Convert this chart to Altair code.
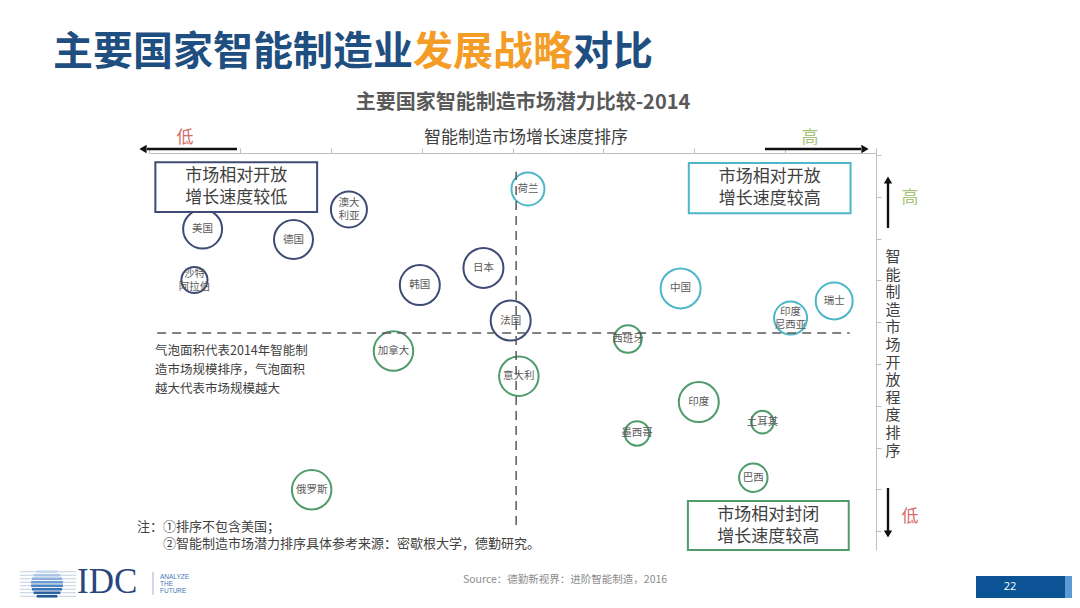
import altair as alt
import pandas as pd

CJK = "Noto Sans CJK SC"

# ---------------- data ----------------
countries = ["美国", "德国", "澳大利亚", "沙特阿拉伯", "韩国", "日本", "法国",
             "荷兰", "中国", "印度尼西亚", "瑞士",
             "加拿大", "意大利", "俄罗斯", "西班牙", "印度", "墨西哥", "土耳其", "巴西"]
labels = ["美国", "德国", "澳大\n利亚", "沙特\n阿拉伯", "韩国", "日本", "法国",
          "荷兰", "中国", "印度\n尼西亚", "瑞士",
          "加拿大", "意大利", "俄罗斯", "西班牙", "印度", "墨西哥", "土耳其", "巴西"]
# growth-rate ranking position (left = low, right = high)
growth = [0.59, 1.59, 2.20, 0.50, 2.98, 3.68, 3.98,
          4.17, 5.85, 7.06, 7.54,
          2.69, 4.07, 1.79, 5.27, 6.05, 5.37, 6.75, 6.65]
# market openness ranking position (bottom = low, top = high)
openness = [7.23, 6.98, 7.70, 6.01, 5.89, 6.30, 5.04,
            8.19, 5.81, 5.10, 5.51,
            4.31, 3.71, 0.99, 4.60, 3.09, 2.34, 2.61, 1.28]
# relative market size (bubble area)
market_size = [15.2, 15.2, 13.0, 6.8, 16.0, 16.0, 16.0,
               10.9, 16.0, 10.9, 13.7,
               15.6, 15.6, 15.6, 7.6, 16.0, 6.0, 5.1, 8.1]
groups = ["开放·低速", "开放·高速", "封闭·高速"]
group_of = [groups[0]] * 7 + [groups[1]] * 4 + [groups[2]] * 8

# quadrant dividers
div_growth = 4.04
div_open = 4.74

quad_text = ["市场相对开放\n增长速度较低", "市场相对开放\n增长速度较高", "市场相对封闭\n增长速度较高"]
quad_x1 = [0.07, 5.94, 5.93]
quad_x2 = [1.85, 7.72, 7.70]
quad_y1 = [7.64, 7.61, -0.45]
quad_y2 = [8.83, 8.81, 0.72]

group_colors = ["#3e4b74", "#4db6c8", "#4f9b6b"]

df = pd.DataFrame({"country": countries, "label": labels, "growth": growth,
                   "openness": openness, "size": market_size, "group": group_of})
quad = pd.DataFrame({"x1": quad_x1, "x2": quad_x2, "y1": quad_y1, "y2": quad_y2,
                     "text": quad_text, "group": groups})
quad["xc"] = (quad["x1"] + quad["x2"]) / 2
quad["yc"] = (quad["y1"] + quad["y2"]) / 2
hline = pd.DataFrame({"x": [0.09], "x2": [7.71], "y": [div_open]})
vline = pd.DataFrame({"x": [div_growth], "y": [0.15], "y2": [8.60]})

X_DOM = [0, 8]
Y_DOM = [-0.45, 9.05]

axis_style = dict(labels=False, title=None, tickSize=5, tickColor="#bfbfbf", tickWidth=1,
                  domainColor="#bfbfbf", domainWidth=1, grid=False)


def X(field):
    return alt.X(field, scale=alt.Scale(domain=X_DOM, nice=False, zero=False),
                 axis=alt.Axis(orient="top", values=list(range(9)), **axis_style))


def Y(field):
    return alt.Y(field, scale=alt.Scale(domain=Y_DOM, nice=False, zero=False),
                 axis=alt.Axis(orient="right", values=list(range(10)), **axis_style))


# ---------------- main layers ----------------
dash_h = alt.Chart(hline).mark_rule(color="#595959", strokeWidth=1.5, strokeDash=[9, 6]).encode(
    x=X("x:Q"), x2="x2:Q", y=Y("y:Q"))
dash_v = alt.Chart(vline).mark_rule(color="#595959", strokeWidth=1.5, strokeDash=[9, 6]).encode(
    x=X("x:Q"), y=Y("y:Q"), y2="y2:Q")

boxes = alt.Chart(quad).mark_rect(fill="white", strokeWidth=2).encode(
    x=X("x1:Q"), x2="x2:Q", y=Y("y1:Q"), y2="y2:Q",
    stroke=alt.Stroke("group:N", scale=alt.Scale(domain=groups, range=group_colors), legend=None))
box_text = alt.Chart(quad).mark_text(font=CJK, fontSize=17, color="#404040", lineBreak="\n",
                                     lineHeight=22, baseline="middle", dy=-11).encode(
    x=X("xc:Q"), y=Y("yc:Q"), text="text:N")

bubbles = alt.Chart(df).mark_point(shape="circle", filled=False, opacity=1).encode(
    x=X("growth:Q"), y=Y("openness:Q"),
    size=alt.Size("size:Q", scale=alt.Scale(domain=[0, 16], range=[0, 1600]), legend=None),
    color=alt.Color("group:N", scale=alt.Scale(domain=groups, range=group_colors), legend=None),
    strokeWidth=alt.StrokeWidth("group:N", scale=alt.Scale(domain=groups, range=[2, 2, 3.5]), legend=None),
)
label_single = alt.Chart(df).transform_filter("indexof(datum.label, '\\n') < 0").mark_text(
    font=CJK, fontSize=10.5, color="#595959", baseline="middle").encode(
    x=X("growth:Q"), y=Y("openness:Q"), text="label:N")
label_double = alt.Chart(df).transform_filter("indexof(datum.label, '\\n') >= 0").mark_text(
    font=CJK, fontSize=10.5, color="#595959", lineBreak="\n", lineHeight=13,
    baseline="middle", dy=-6).encode(
    x=X("growth:Q"), y=Y("openness:Q"), text="label:N")

# ---------------- decorations (pixel positions relative to plot area) ----------------
one = pd.DataFrame({"k": [0]})


def txt(s, x, y, **kw):
    kw.setdefault("font", CJK)
    kw.setdefault("baseline", "middle")
    return alt.Chart(one).mark_text(text=s, **kw).encode(x=alt.value(x), y=alt.value(y))


def hrule(x1, x2, y, **kw):
    return alt.Chart(one).mark_rule(**kw).encode(x=alt.value(x1), x2=alt.value(x2), y=alt.value(y))


def vrule(x, y1, y2, **kw):
    return alt.Chart(one).mark_rule(**kw).encode(x=alt.value(x), y=alt.value(y1), y2=alt.value(y2))


def head(x, y, shape, size=70, color="#111111"):
    return alt.Chart(one).mark_point(shape=shape, filled=True, size=size, color=color, opacity=1,
                                     strokeWidth=0).encode(x=alt.value(x), y=alt.value(y))


def rect(x1, x2, y1, y2, color):
    return alt.Chart(one).mark_rect(color=color).encode(
        x=alt.value(x1), x2=alt.value(x2), y=alt.value(y1), y2=alt.value(y2))


NAVY = "#1f4e80"
ORANGE = "#f39c26"
deco = [
    txt("主要国家智能制造业", -96, -100, fontSize=40, fontWeight="bold", color=NAVY, align="left"),
    txt("发展战略", 264, -100, fontSize=40, fontWeight="bold", color=ORANGE, align="left"),
    txt("对比", 424, -100, fontSize=40, fontWeight="bold", color=NAVY, align="left"),
    txt("主要国家智能制造市场潜力比较-2014", 374, -50, fontSize=20, fontWeight="bold", color="#595959"),
    txt("智能制造市场增长速度排序", 377, -15, fontSize=17, color="#404040"),
    txt("低", 36, -15, fontSize=17, color="#d46c6c"),
    txt("高", 661, -15, fontSize=17, color="#a6c47a"),
    hrule(-2, 88, -4, color="#111111", strokeWidth=2.4),
    head(-6, -4, "triangle-left"),
    hrule(616, 712, -4, color="#111111", strokeWidth=2.4),
    head(716, -4, "triangle-right"),
    vrule(739, 30, 75, color="#111111", strokeWidth=2.4),
    head(739, 27, "triangle-up"),
    txt("高", 761, 45, fontSize=17, color="#a6c47a"),
    txt("\n".join("智能制造市场开放程度排序"), 744, 97, fontSize=15, color="#404040",
        lineBreak="\n", lineHeight=17.6, baseline="top"),
    vrule(739, 335, 378, color="#111111", strokeWidth=2.4),
    head(739, 381, "triangle-down"),
    txt("低", 761, 364, fontSize=17, color="#d46c6c"),
    txt("气泡面积代表2014年智能制\n造市场规模排序，气泡面积\n越大代表市场规模越大", 6, 192,
        fontSize=12.5, color="#404040", align="left", lineBreak="\n", lineHeight=19, baseline="top"),
    txt("注：①排序不包含美国；", -12, 374, fontSize=13, color="#404040", align="left"),
    txt("②智能制造市场潜力排序具体参考来源：密歇根大学，德勤研究。", 14, 391, fontSize=13,
        color="#404040", align="left"),
    txt("Source：德勤新视界：进阶智能制造，2016", 314, 427, fontSize=10.5, color="#8c8c8c", align="left"),
    # page number
    rect(827, 916, 423, 445, "#0b5394"),
    rect(916, 923, 423, 445, "#5b9bd5"),
    txt("22", 861, 434, fontSize=11, color="white", font="Open Sans"),
    # IDC logo
    txt("IDC", -72, 429, fontSize=35, color="#27477e", font="Liberation Serif", align="left"),
    vrule(4, 419, 442, color="#9fb3cf", strokeWidth=1),
    txt("ANALYZE", 11, 424, fontSize=6.5, color="#3f74b8", font="Liberation Sans", align="left"),
    txt("THE", 11, 431, fontSize=6.5, color="#3f74b8", font="Liberation Sans", align="left"),
    txt("FUTURE", 11, 438, fontSize=6.5, color="#3f74b8", font="Liberation Sans", align="left"),
]

globe_cx, globe_cy = -102, 431
stripe_dy = [-12.25, -8.75, -5.25, -1.75, 1.75, 5.25, 8.75, 12.25]
stripe_half = [10.3, 13.4, 15.1, 15.9, 15.9, 15.1, 13.4, 10.3]
stripe_colors = ["#c5d8ee", "#a9c5e6", "#8cb1dc", "#6f9bd0", "#4f84c2", "#3a72b4", "#2a62a6", "#1f5597"]
for dy in stripe_dy:
    deco.append(hrule(globe_cx - 27, globe_cx + 29, globe_cy + dy, color="#b3c3d8", strokeWidth=0.8))
for dy, hw, c in zip(stripe_dy, stripe_half, stripe_colors):
    deco.append(hrule(globe_cx - hw, globe_cx + hw, globe_cy + dy, color=c, strokeWidth=2.6))

chart = alt.layer(bubbles, dash_h, dash_v, boxes, box_text, label_single, label_double, *deco).properties(
    width=727, height=397,
    padding={"left": 141, "top": 145, "right": 196, "bottom": 50},
    autosize=alt.AutoSizeParams(type="none"),
    background="white",
).configure_view(stroke=None)

chart.save("out.html", embed_options={"renderer": "svg", "actions": False})
